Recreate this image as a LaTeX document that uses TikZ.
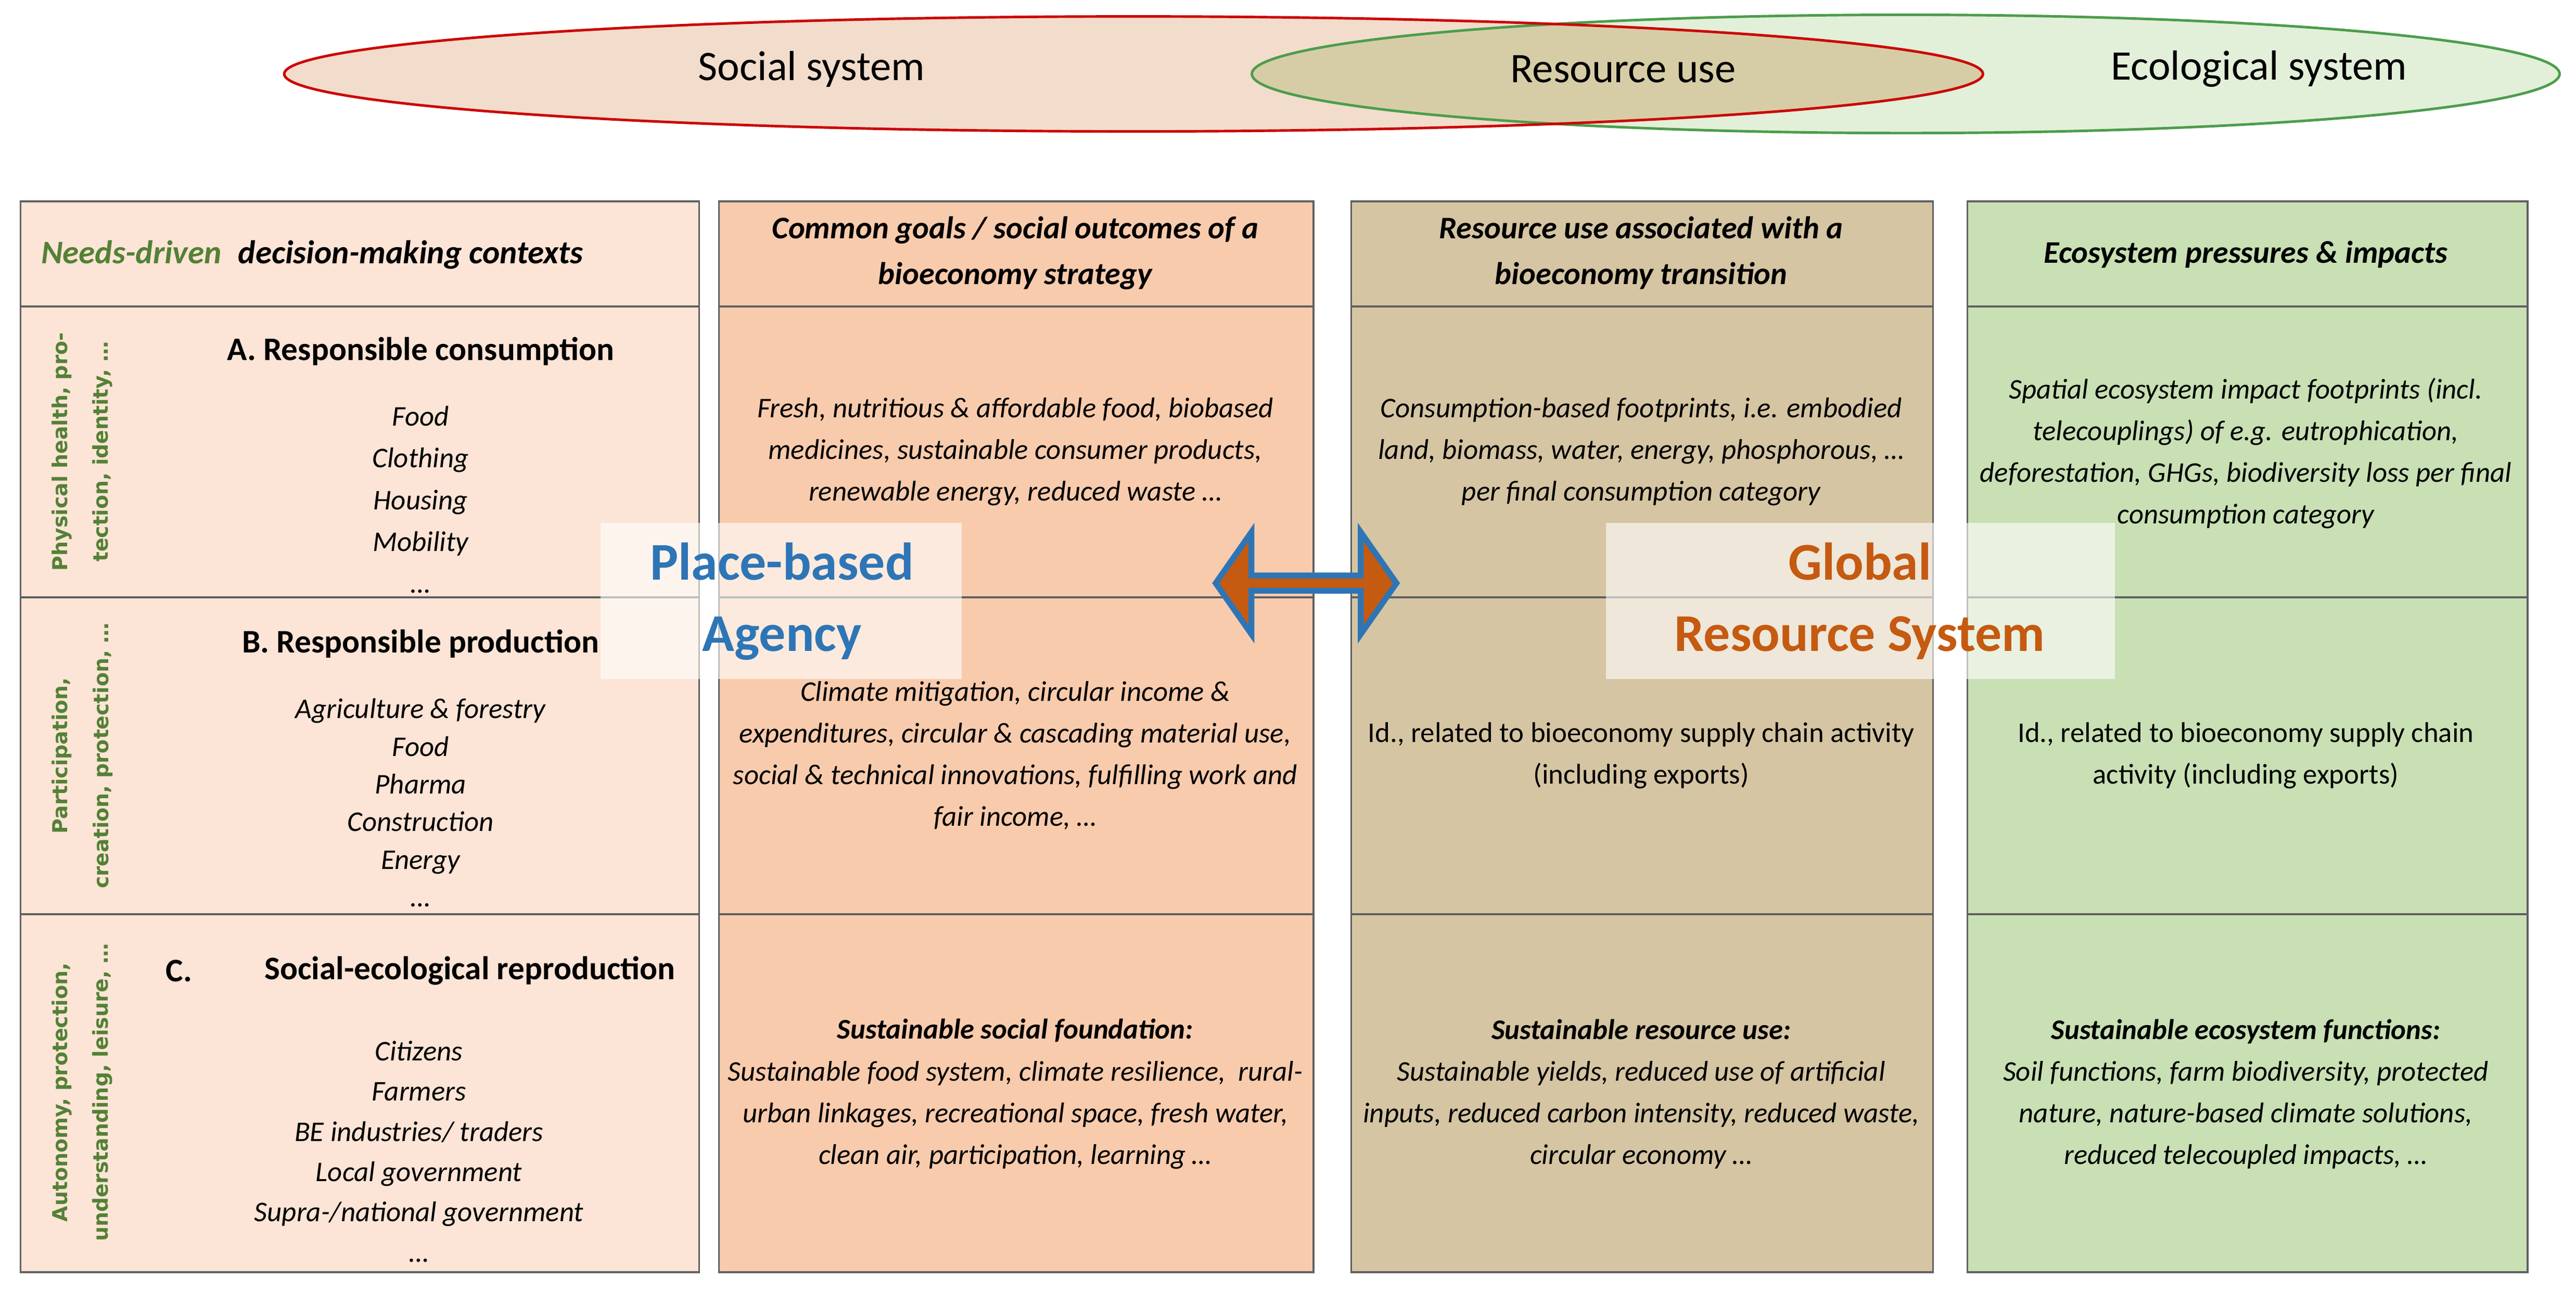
\documentclass[tikz,border=0pt]{standalone}
\usepackage{fontspec}
\setmainfont{Carlito}
\newfontfamily\vlabfont{DejaVu Sans}
\usetikzlibrary{positioning,shapes.arrows}

\definecolor{socfill}{HTML}{F2DCCB}
\definecolor{ecofill}{HTML}{E2EFD9}
\definecolor{usefill}{HTML}{D6CDA6}
\definecolor{colA}{HTML}{FCE4D6}
\definecolor{colB}{HTML}{F8CBAD}
\definecolor{colC}{HTML}{D5C5A3}
\definecolor{colD}{HTML}{C8E0B4}
\definecolor{needgreen}{HTML}{538135}
\definecolor{agblue}{HTML}{2E75B6}
\definecolor{agorange}{HTML}{C55A11}

\begin{document}
\begin{tikzpicture}[
        x=0.01578cm, y=-0.01578cm,
        cell/.style={
          draw=gray!75!black,
          line width=0.5pt,
          anchor=north west,
          inner sep=0pt
          },
        body/.style={
          align=center,
          font=\fontsize{7.8}{11.4}\selectfont\itshape
          },
        plainbody/.style={
          align=center,
          font=\fontsize{7.8}{11.4}\selectfont
          },
        head/.style={
          align=center,
          font=\fontsize{8.6}{12.6}\selectfont\bfseries\itshape
          },
        rowtitle/.style={
          font=\fontsize{9}{11}\selectfont\bfseries
          },
        need/.style={
          rotate=90,
          align=center,
          text=needgreen,
          font=\fontsize{5.6}{11.2}\selectfont\vlabfont\bfseries
          },
        cover/.style={
          fill=white,
          fill opacity=0.6,
          text opacity=1,
          anchor=north west,
          inner sep=0pt
          },
        big/.style={
          align=center,
          font=\fontsize{14.5}{19.5}\selectfont\bfseries
          }
        ]
        \useasboundingbox (0,0) rectangle (1568,787);

        % system ellipses on top
        \fill[ecofill] (1160,45) ellipse [x radius=398, y radius=36];
        \fill[socfill] (690,45) ellipse [x radius=517, y radius=35];
        \begin{scope}
          \clip (1160,45) ellipse [x radius=398, y radius=36];
          \fill[usefill] (690,45) ellipse [x radius=517, y radius=35];
        \end{scope}
        \draw[green!45!black!70, line width=0.7pt] (1160,45) ellipse [x radius=398, y radius=36];
        \draw[red!80!black, line width=0.7pt] (690,45) ellipse [x radius=517, y radius=35];
        \node[font=\fontsize{11.5}{14}\selectfont] (social) at (494,42) {Social system};
        \node[font=\fontsize{11.5}{14}\selectfont] (resuse) at (988,42) {Resource use};
        \node[font=\fontsize{11.5}{14}\selectfont] (ecol) at (1375,42) {Ecological system};

        % table cells
        \foreach \cx/\cw/\col [count=\ci] in {12/413/colA,437/362/colB,822/354/colC,1197/341/colD}
        {\foreach \ry/\rh [count=\ri] in {122/64,186/177,363/193,556/218}
          \node[cell, fill=\col, minimum width=\cw*0.01578cm, minimum height=\rh*0.01578cm]
            (cell-\ri-\ci) at (\cx,\ry) {};
        }

        % overlay boxes
        \node[cover, minimum width=220*0.01578cm, minimum height=95*0.01578cm] (placebox) at (365,318) {};
        \node[cover, minimum width=310*0.01578cm, minimum height=95*0.01578cm] (globalbox) at (977,318) {};

        % column 1
        \node[head, font=\fontsize{9}{12}\selectfont\bfseries\itshape] (needs) at (190,155)
          {\textcolor{needgreen}{Needs-driven}\enspace decision-making contexts};
        \node[rowtitle] (titleA) at (256,214) {A. Responsible consumption};
        \node[body, below=4pt of titleA] (itemsA) {Food\\Clothing\\Housing\\Mobility\\\ldots};
        \node[rowtitle] (titleB) at (256,392) {B. Responsible production};
        \node[body, below=4pt of titleB, font=\fontsize{7.8}{10.3}\selectfont\itshape] (itemsB)
          {Agriculture \& forestry\\Food\\Pharma\\Construction\\Energy\\\ldots};
        \node[rowtitle] (titleCa) at (109,591) {C.};
        \node[rowtitle] (titleC) at (286,591) {Social-ecological reproduction};
        \node[body, font=\fontsize{7.8}{11}\selectfont\itshape] (itemsC) at (255,701)
          {Citizens\\Farmers\\BE industries/ traders\\Local government\\Supra-/national government\\\ldots};
        \node[need] (needA) at (50,275) {Physical health, pro-\\tection, identity, \ldots};
        \node[need] (needB) at (50,460) {Participation,\\creation, protection, \ldots};
        \node[need] (needC) at (50,665) {Autonomy, protection,\\understanding, leisure, \ldots};

        % column 2
        \node[head] (goalhead) at (618,154) {Common goals / social outcomes of a\\bioeconomy strategy};
        \node[body] (goalA) at (618,275) {Fresh, nutritious \& affordable food, biobased\\medicines, sustainable consumer products,\\renewable energy, reduced waste \ldots};
        \node[body] (goalB) at (618,460) {Climate mitigation, circular income \&\\expenditures, circular \& cascading material use,\\social \& technical innovations, fulfilling work and\\fair income, \ldots};
        \node[body] (goalC) at (618,666) {\textbf{Sustainable social foundation:}\\Sustainable food system, climate resilience,\ \ rural-\\urban linkages, recreational space, fresh water,\\clean air, participation, learning \ldots};

        % column 3
        \node[head] (usehead) at (999,154) {Resource use associated with a\\bioeconomy transition};
        \node[body] (useA) at (999,275) {Consumption-based footprints, i.e. embodied\\land, biomass, water, energy, phosphorous, \ldots\\per final consumption category};
        \node[plainbody] (useB) at (999,460) {Id., related to bioeconomy supply chain activity\\(including exports)};
        \node[body] (useC) at (999,666) {\textbf{Sustainable resource use:}\\Sustainable yields, reduced use of artificial\\inputs, reduced carbon intensity, reduced waste,\\circular economy \ldots};

        % column 4
        \node[head] (ecohead) at (1367,155) {Ecosystem pressures \& impacts};
        \node[body] (ecoA) at (1367,276) {Spatial ecosystem impact footprints (incl.\\telecouplings) of e.g. eutrophication,\\deforestation, GHGs, biodiversity loss per final\\consumption category};
        \node[plainbody] (ecoB) at (1367,460) {Id., related to bioeconomy supply chain\\activity (including exports)};
        \node[body] (ecoC) at (1367,666) {\textbf{Sustainable ecosystem functions:}\\Soil functions, farm biodiversity, protected\\nature, nature-based climate solutions,\\reduced telecoupled impacts, \ldots};

        % agency vs. resource system
        \node[big, text=agblue] (place) at (476,366) {Place-based\\Agency};
        \node[big, text=agorange] (global) at (1132,366) {Global\\Resource System};
        \node[double arrow, fill=agorange, draw=agblue, line width=1.6pt,
          minimum width=62*0.01578cm, minimum height=110*0.01578cm,
          double arrow head extend=0.16cm, double arrow tip angle=110, inner sep=0pt]
          (link) at (795,355) {};
        \end{tikzpicture}
\end{document}
